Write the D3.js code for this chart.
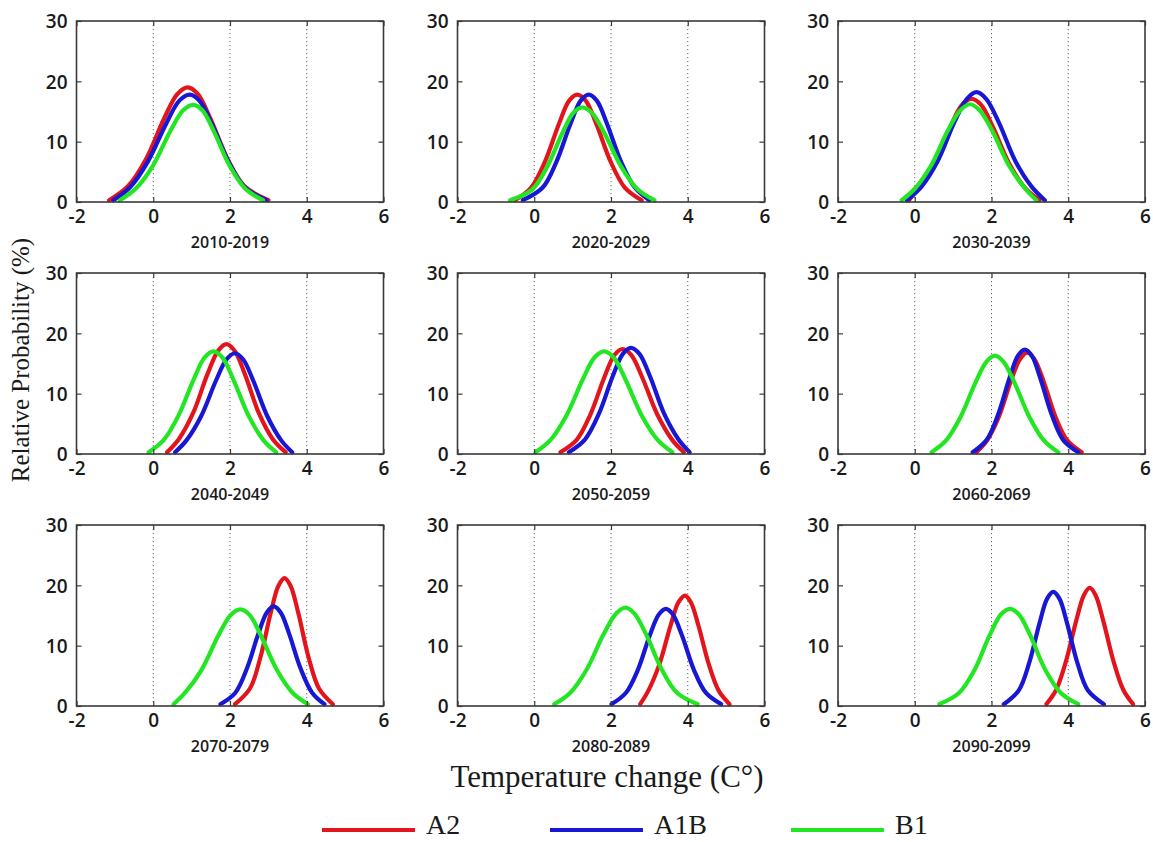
<!DOCTYPE html>
<html>
<head>
<meta charset="utf-8">
<script src="https://cdn.jsdelivr.net/npm/d3@7"></script>
<style>
  html, body { margin: 0; padding: 0; background: #fff; }
  svg { display: block; }
  .tick-label { font-family: "Open Sans", "DejaVu Sans", sans-serif; font-weight: 600; font-size: 19px; fill: #1a1a1a; }
  .period { font-family: "Open Sans", "DejaVu Sans", sans-serif; font-weight: 600; font-size: 16px; fill: #1a1a1a; }
  .serif { font-family: "Liberation Serif", "Times New Roman", serif; fill: #1a1a1a; }
</style>
</head>
<body>
<svg id="chart" width="1153" height="842"></svg>
<script>
// Decades shown in the 3x3 grid (row-major)
const periods = ["2010-2019", "2020-2029", "2030-2039",
                 "2040-2049", "2050-2059", "2060-2069",
                 "2070-2079", "2080-2089", "2090-2099"];
const scenarios = ["A2", "A1B", "B1"];
const xTicks = [-2, 0, 2, 4, 6];
const yTicks = [0, 10, 20, 30];
const gridLines = [0, 2, 4];

// Relative probability (%) vs temperature change (°C), one curve per decade
const a2Curves = [
  [[-1.15,0.3],[-0.66,2.6],[-0.19,7.1],[0.28,13.8],[0.63,17.9],[0.9,19.0],[1.16,17.9],[1.49,13.8],[1.94,7.1],[2.38,2.6],[3.0,0.3]],
  [[-0.5,0.3],[-0.08,2.4],[0.28,6.7],[0.64,12.9],[0.91,16.8],[1.12,17.8],[1.34,16.8],[1.62,12.9],[1.99,6.7],[2.36,2.4],[2.8,0.3]],
  [[-0.15,0.3],[0.08,2.3],[0.5,6.4],[0.92,12.4],[1.23,16.1],[1.48,17.1],[1.73,16.1],[2.04,12.4],[2.46,6.4],[2.88,2.3],[3.25,0.3]],
  [[0.36,0.3],[0.67,2.5],[1.04,6.8],[1.41,13.2],[1.69,17.1],[1.91,18.2],[2.12,17.1],[2.39,13.2],[2.75,6.8],[3.11,2.5],[3.45,0.3]],
  [[0.68,0.3],[1.1,2.3],[1.46,6.5],[1.82,12.6],[2.09,16.4],[2.3,17.4],[2.53,16.4],[2.82,12.6],[3.21,6.5],[3.6,2.3],[3.9,0.3]],
  [[1.61,0.3],[1.89,2.3],[2.2,6.3],[2.51,12.2],[2.75,15.8],[2.93,16.8],[3.11,15.8],[3.35,12.2],[3.66,6.3],[3.97,2.3],[4.35,0.3]],
  [[2.13,0.3],[2.52,2.9],[2.79,8.0],[3.06,15.4],[3.26,19.9],[3.42,21.2],[3.58,19.9],[3.78,15.4],[4.05,8.0],[4.32,2.9],[4.68,0.3]],
  [[2.76,0.3],[2.97,2.5],[3.26,6.9],[3.55,13.3],[3.76,17.2],[3.93,18.3],[4.08,17.2],[4.28,13.3],[4.55,6.9],[4.81,2.5],[5.09,0.3]],
  [[3.43,0.3],[3.68,2.6],[3.94,7.4],[4.21,14.2],[4.41,18.4],[4.56,19.6],[4.71,18.4],[4.91,14.2],[5.18,7.4],[5.44,2.6],[5.69,0.3]]
];
const a1bCurves = [
  [[-1.04,0.3],[-0.61,2.4],[-0.14,6.7],[0.33,12.9],[0.68,16.8],[0.95,17.8],[1.2,16.8],[1.53,12.9],[1.96,6.7],[2.39,2.4],[2.95,0.3]],
  [[-0.3,0.3],[0.22,2.4],[0.58,6.7],[0.94,12.9],[1.21,16.8],[1.42,17.8],[1.63,16.8],[1.9,12.9],[2.26,6.7],[2.62,2.4],[3.0,0.3]],
  [[-0.2,0.3],[0.17,2.5],[0.6,6.8],[1.03,13.2],[1.36,17.1],[1.61,18.2],[1.86,17.1],[2.19,13.2],[2.62,6.8],[3.05,2.5],[3.39,0.3]],
  [[0.57,0.3],[0.87,2.3],[1.25,6.3],[1.63,12.1],[1.91,15.7],[2.13,16.7],[2.34,15.7],[2.61,12.1],[2.97,6.3],[3.33,2.3],[3.62,0.3]],
  [[0.9,0.3],[1.32,2.4],[1.68,6.6],[2.04,12.8],[2.31,16.6],[2.52,17.6],[2.74,16.6],[3.02,12.8],[3.39,6.6],[3.76,2.4],[4.05,0.3]],
  [[1.51,0.3],[1.87,2.3],[2.17,6.5],[2.47,12.6],[2.69,16.3],[2.87,17.3],[3.05,16.3],[3.27,12.6],[3.57,6.5],[3.87,2.3],[4.26,0.3]],
  [[1.75,0.3],[2.14,2.2],[2.44,6.2],[2.74,12.0],[2.96,15.5],[3.14,16.5],[3.32,15.5],[3.54,12.0],[3.84,6.2],[4.14,2.2],[4.46,0.3]],
  [[2.01,0.3],[2.39,2.2],[2.7,6.0],[3.01,11.7],[3.25,15.2],[3.43,16.1],[3.61,15.2],[3.85,11.7],[4.16,6.0],[4.47,2.2],[4.87,0.3]],
  [[2.32,0.3],[2.71,2.6],[2.98,7.1],[3.25,13.7],[3.45,17.8],[3.61,18.9],[3.77,17.8],[3.97,13.7],[4.24,7.1],[4.51,2.6],[4.93,0.3]]
];
const b1Curves = [
  [[-0.87,0.3],[-0.46,2.2],[-0.01,6.0],[0.44,11.7],[0.78,15.2],[1.04,16.1],[1.28,15.2],[1.58,11.7],[1.99,6.0],[2.4,2.2],[2.86,0.3]],
  [[-0.63,0.3],[-0.05,2.1],[0.34,5.9],[0.73,11.4],[1.02,14.8],[1.25,15.7],[1.5,14.8],[1.83,11.4],[2.26,5.9],[2.69,2.1],[3.13,0.3]],
  [[-0.34,0.3],[0.0,2.2],[0.43,6.1],[0.86,11.8],[1.19,15.2],[1.44,16.2],[1.69,15.2],[2.02,11.8],[2.45,6.1],[2.88,2.2],[3.17,0.3]],
  [[-0.12,0.3],[0.27,2.3],[0.66,6.4],[1.05,12.3],[1.34,16.0],[1.57,17.0],[1.8,16.0],[2.09,12.3],[2.48,6.4],[2.87,2.3],[3.2,0.3]],
  [[0.03,0.3],[0.42,2.3],[0.84,6.4],[1.26,12.3],[1.57,16.0],[1.82,17.0],[2.07,16.0],[2.38,12.3],[2.8,6.4],[3.22,2.3],[3.6,0.3]],
  [[0.44,0.3],[0.81,2.2],[1.19,6.1],[1.58,11.8],[1.87,15.3],[2.09,16.3],[2.31,15.3],[2.6,11.8],[2.99,6.1],[3.37,2.2],[3.74,0.3]],
  [[0.53,0.3],[0.83,2.2],[1.26,6.0],[1.69,11.6],[2.02,15.1],[2.27,16.0],[2.51,15.1],[2.81,11.6],[3.22,6.0],[3.63,2.2],[4.03,0.3]],
  [[0.52,0.3],[0.94,2.2],[1.37,6.1],[1.8,11.8],[2.13,15.3],[2.38,16.3],[2.61,15.3],[2.92,11.8],[3.32,6.1],[3.72,2.2],[4.26,0.3]],
  [[0.64,0.3],[1.16,2.2],[1.56,6.0],[1.95,11.7],[2.25,15.2],[2.48,16.1],[2.71,15.2],[3.01,11.7],[3.4,6.0],[3.8,2.2],[4.26,0.3]]
];

const seriesCurves = [a2Curves, a1bCurves, b1Curves];
const seriesColors = ["#e3151c", "#1717d4", "#22e622"];

// Panel geometry
const colLeft = [76.5, 457.5, 838];
const rowTop = [21, 273, 525];
const pw = 307, ph = 181;

const svg = d3.select("#chart");

const x = d3.scaleLinear().domain([-2, 6]).range([0, pw]);
const y = d3.scaleLinear().domain([0, 30]).range([ph, 0]);

const line = d3.line()
  .x(d => x(d[0]))
  .y(d => y(d[1]))
  .curve(d3.curveCatmullRom.alpha(0.5));

// plain hyphen-minus for negative tick values
const plainFormat = d => String(d);

periods.forEach((period, i) => {
  const col = i % 3, row = Math.floor(i / 3);
  const g = svg.append("g").attr("transform", `translate(${colLeft[col]},${rowTop[row]})`);

  // dotted reference lines
  g.selectAll("line.grid").data(gridLines).join("line")
    .attr("x1", d => x(d)).attr("x2", d => x(d))
    .attr("y1", 0).attr("y2", ph)
    .attr("stroke", "#666").attr("stroke-width", 1)
    .attr("stroke-dasharray", "1.2,2.8");

  // curves: A2, A1B, then B1 on top
  seriesCurves.forEach((curves, s) => {
    g.append("path")
      .datum(curves[i])
      .attr("d", line)
      .attr("fill", "none")
      .attr("stroke", seriesColors[s])
      .attr("stroke-width", 4.2)
      .attr("stroke-linejoin", "round")
      .attr("stroke-linecap", "round");
  });

  // frame
  g.append("rect").attr("width", pw).attr("height", ph)
    .attr("fill", "none").attr("stroke", "#3a3a3a").attr("stroke-width", 1.6);

  // axes with inward ticks
  const ax = g.append("g").attr("transform", `translate(0,${ph})`)
    .call(d3.axisBottom(x).tickValues(xTicks).tickSizeInner(-5).tickSizeOuter(0).tickPadding(8).tickFormat(plainFormat));
  const ay = g.append("g")
    .call(d3.axisLeft(y).tickValues(yTicks).tickSizeInner(-5).tickSizeOuter(0).tickPadding(9).tickFormat(plainFormat));
  const axR = g.append("g").attr("transform", `translate(${pw},0)`)
    .call(d3.axisRight(y).tickValues(yTicks).tickSizeInner(-5).tickSizeOuter(0).tickFormat(""));
  const axT = g.append("g")
    .call(d3.axisTop(x).tickValues(xTicks).tickSizeInner(-5).tickSizeOuter(0).tickFormat(""));
  [ax, ay, axR, axT].forEach(a => {
    a.select(".domain").remove();
    a.selectAll(".tick line").attr("stroke", "#3a3a3a").attr("stroke-width", 1.2);
    a.selectAll(".tick text").attr("class", "tick-label").attr("font-family", null).attr("font-size", null);
  });
  ay.selectAll(".tick text").attr("dy", "0.36em");

  // decade label
  g.append("text").attr("class", "period")
    .attr("x", pw / 2).attr("y", ph + 46)
    .attr("text-anchor", "middle")
    .text(period);
});

// Shared axis titles
svg.append("text").attr("class", "serif")
  .attr("transform", "translate(29,360) rotate(-90)")
  .attr("text-anchor", "middle")
  .attr("font-size", 25)
  .text("Relative Probability (%)");

svg.append("text").attr("class", "serif")
  .attr("x", 607).attr("y", 787)
  .attr("text-anchor", "middle")
  .attr("font-size", 31)
  .text("Temperature change (C°)");

// Legend
const legendX = [322, 550, 791];
const legend = svg.append("g");
scenarios.forEach((name, s) => {
  legend.append("line")
    .attr("x1", legendX[s]).attr("x2", legendX[s] + 93)
    .attr("y1", 830).attr("y2", 830)
    .attr("stroke", seriesColors[s]).attr("stroke-width", 4);
  legend.append("text").attr("class", "serif")
    .attr("x", legendX[s] + 104).attr("y", 834)
    .attr("font-size", 28)
    .text(name);
});
</script>
</body>
</html>
